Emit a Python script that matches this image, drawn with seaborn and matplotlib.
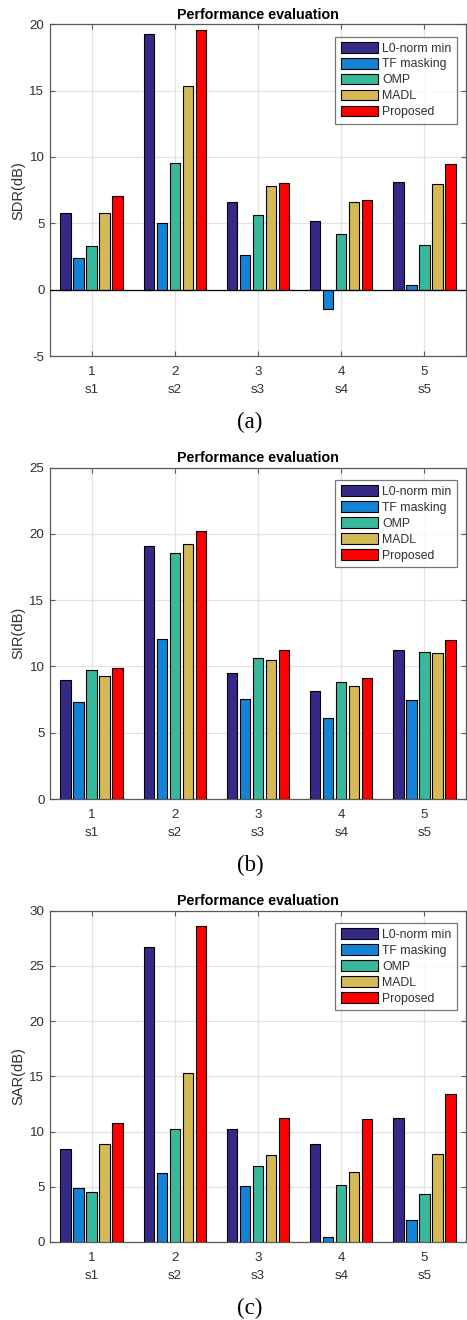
import numpy as np
import pandas as pd
import matplotlib
matplotlib.use("Agg")
import matplotlib.pyplot as plt
import seaborn as sns

methods = ["L0-norm min", "TF masking", "OMP", "MADL", "Proposed"]
sources = ["1", "2", "3", "4", "5"]
source_names = ["s1", "s2", "s3", "s4", "s5"]
colors = ["#352a87", "#1482d5", "#38b99e", "#d4b955", "#ff0000"]

# values per method, for sources s1..s5
sdr_l0 = [5.81, 19.25, 6.57, 5.18, 8.08]
sdr_tf = [2.42, 5.03, 2.64, -1.43, 0.35]
sdr_omp = [3.27, 9.58, 5.61, 4.23, 3.40]
sdr_madl = [5.79, 15.32, 7.85, 6.64, 8.00]
sdr_prop = [7.07, 19.60, 8.03, 6.79, 9.46]

sir_l0 = [8.98, 19.09, 9.48, 8.12, 11.27]
sir_tf = [7.29, 12.05, 7.55, 6.09, 7.47]
sir_omp = [9.71, 18.56, 10.64, 8.83, 11.07]
sir_madl = [9.26, 19.27, 10.46, 8.50, 10.99]
sir_prop = [9.88, 20.20, 11.22, 9.13, 11.97]

sar_l0 = [8.39, 26.68, 10.20, 8.90, 11.23]
sar_tf = [4.86, 6.25, 5.07, 0.42, 1.99]
sar_omp = [4.50, 10.23, 6.85, 5.13, 4.32]
sar_madl = [8.90, 15.33, 7.85, 6.37, 8.00]
sar_prop = [10.75, 28.61, 11.20, 11.14, 13.37]

panels = [
    ("SDR(dB)", [sdr_l0, sdr_tf, sdr_omp, sdr_madl, sdr_prop], (-5, 20), [-5, 0, 5, 10, 15, 20], "(a)"),
    ("SIR(dB)", [sir_l0, sir_tf, sir_omp, sir_madl, sir_prop], (0, 25), [0, 5, 10, 15, 20, 25], "(b)"),
    ("SAR(dB)", [sar_l0, sar_tf, sar_omp, sar_madl, sar_prop], (0, 30), [0, 5, 10, 15, 20, 25, 30], "(c)"),
]

sns.set_theme(style="white")
plt.rcParams["font.family"] = ["Liberation Sans", "DejaVu Sans"]

W, H = 467, 1320
fig = plt.figure(figsize=(W / 100, H / 100), dpi=100)

axes_px = [(24.3, 356.0), (467.7, 799.0), (910.7, 1242.0)]
caption_y = [422.7, 865.0, 1308.0]
left_px, right_px = 50, 466

spine_c = "#5a5a5a"
text_c = "#303030"

for (ylab, series, ylim, yt, cap), (top, bot), cy in zip(panels, axes_px, caption_y):
    ax = fig.add_axes([left_px / W, 1 - bot / H, (right_px - left_px) / W, (bot - top) / H])
    rows = []
    for m, vals in zip(methods, series):
        for s, v in zip(sources, vals):
            rows.append({"source": s, "method": m, "value": v})
    df = pd.DataFrame(rows)
    sns.barplot(data=df, x="source", y="value", hue="method", order=sources,
                hue_order=methods, palette=colors, width=0.78, gap=0.2,
                edgecolor="black", linewidth=0.8, saturation=1, ax=ax, zorder=3)
    ax.set_xlim(-0.5, 4.5)
    ax.set_ylim(*ylim)
    ax.set_yticks(yt)
    ax.set_yticklabels([str(v) for v in yt])
    ax.set_xticks(range(5))
    ax.set_xticklabels([f"{a}\n{b}" for a, b in zip(sources, source_names)], linespacing=1.7)
    ax.set_xlabel("")
    ax.set_ylabel(ylab, fontsize=10.5, color=text_c, labelpad=3)
    ax.set_title("Performance evaluation", fontsize=10.3, fontweight="bold", color="black", pad=4)
    ax.grid(True, color="#e3e3e3", linewidth=0.9, zorder=0)
    ax.set_axisbelow(True)
    if ylim[0] < 0:
        ax.axhline(0, color="black", linewidth=0.9, zorder=4)
    for sp in ax.spines.values():
        sp.set_color(spine_c)
        sp.set_linewidth(0.9)
        sp.set_visible(True)
    ax.tick_params(direction="in", length=3.5, width=0.8, color=spine_c,
                   labelsize=9.6, labelcolor=text_c, top=True, right=True,
                   bottom=True, left=True, pad=4)
    ax.tick_params(axis="x", pad=7)
    leg = ax.legend(loc="upper right", bbox_to_anchor=(0.978, 0.963), fontsize=8.8,
                    frameon=True, fancybox=False, edgecolor="#555555",
                    handlelength=3.1, handleheight=0.95, labelspacing=0.28,
                    borderpad=0.45, handletextpad=0.3, borderaxespad=0)
    leg.get_frame().set_linewidth(0.9)
    for t in leg.get_texts():
        t.set_color(text_c)
    fig.text(250 / W, 1 - cy / H, cap, ha="center", va="center",
             fontsize=16.5, family=["Liberation Serif", "DejaVu Serif"], color="black")

fig.savefig("out.png", dpi=100)
